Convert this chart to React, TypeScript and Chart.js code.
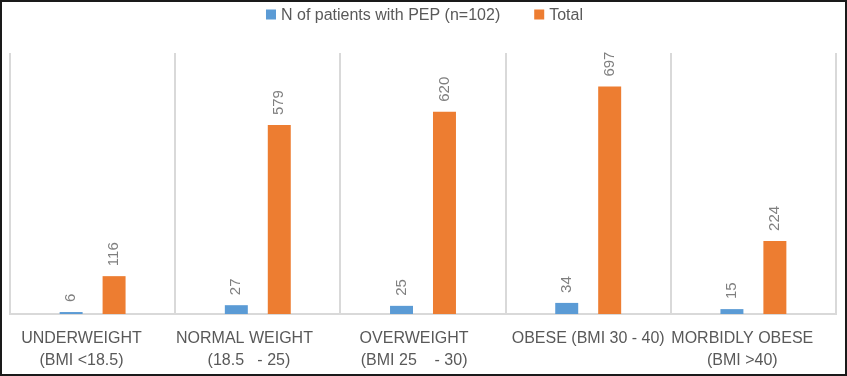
import React, { useEffect, useRef } from "react";
import { Chart, registerables } from "chart.js";

Chart.register(...registerables);

const categories: string[][] = [
  ["UNDERWEIGHT     ", "(BMI <18.5)     "],
  ["NORMAL WEIGHT      ", "(18.5   - 25)    "],
  ["OVERWEIGHT    ", "(BMI 25    - 30)    "],
  ["OBESE (BMI 30 - 40)"],
  ["MORBIDLY OBESE     ", "(BMI >40)     "],
];

const seriesNames = ["N of patients with PEP (n=102)", "Total"];
const pepValues = [6, 27, 25, 34, 15];
const totalValues = [116, 579, 620, 697, 224];
const seriesColors = ["#5B9BD5", "#ED7D31"];

const FONT = "'Liberation Sans', Arial, sans-serif";

const dataLabelPlugin = {
  id: "rotatedDataLabels",
  afterDatasetsDraw(chart: any) {
    const ctx = chart.ctx;
    ctx.save();
    ctx.font = `15px ${FONT}`;
    ctx.fillStyle = "#7f7f7f";
    ctx.textAlign = "left";
    ctx.textBaseline = "middle";
    chart.data.datasets.forEach((ds: any, di: number) => {
      const meta = chart.getDatasetMeta(di);
      meta.data.forEach((el: any, i: number) => {
        ctx.save();
        ctx.translate(el.x, el.y - 10);
        ctx.rotate(-Math.PI / 2);
        ctx.fillText(String(ds.data[i]), 0, 0);
        ctx.restore();
      });
    });
    ctx.restore();
  },
};

const legendPlugin = {
  id: "customLegend",
  afterDraw(chart: any) {
    const ctx = chart.ctx;
    ctx.save();
    ctx.font = `16px ${FONT}`;
    ctx.textBaseline = "middle";
    ctx.textAlign = "left";
    const box = 10;
    const gapBoxText = 5;
    const gapItems = 34;
    const items = chart.data.datasets.map((ds: any) => ({
      text: ds.label,
      color: ds.backgroundColor,
      w: ctx.measureText(ds.label).width,
    }));
    const total =
      items.reduce((s: number, it: any) => s + box + gapBoxText + it.w, 0) +
      gapItems * (items.length - 1);
    let x = chart.width / 2 - total / 2 + 1;
    const cy = 12.5;
    items.forEach((it: any) => {
      ctx.fillStyle = it.color;
      ctx.fillRect(x, cy - box / 2, box, box);
      x += box + gapBoxText;
      ctx.fillStyle = "#595959";
      ctx.fillText(it.text, x, cy + 1);
      x += it.w + gapItems;
    });
    ctx.restore();
  },
};

export default function App() {
  const ref = useRef<HTMLCanvasElement | null>(null);
  useEffect(() => {
    if (!ref.current) return;
    const chart = new Chart(ref.current, {
      type: "bar",
      data: {
        labels: categories,
        datasets: [
          {
            label: seriesNames[0],
            data: pepValues,
            backgroundColor: seriesColors[0],
            categoryPercentage: 0.52,
            barPercentage: 0.535,
          },
          {
            label: seriesNames[1],
            data: totalValues,
            backgroundColor: seriesColors[1],
            categoryPercentage: 0.52,
            barPercentage: 0.535,
          },
        ],
      },
      options: {
        responsive: false,
        animation: false,
        layout: { padding: { left: 8, right: 9, top: 51, bottom: 2 } },
        plugins: {
          legend: { display: false },
          tooltip: { enabled: false },
        },
        scales: {
          x: {
            afterFit(scale: any) {
              scale.height = 58;
              scale.paddingLeft = 0;
              scale.paddingRight = 0;
            },
            grid: {
              display: true,
              offset: true,
              color: "#d9d9d9",
              lineWidth: 2,
              drawTicks: false,
            },
            border: { display: true, color: "#d9d9d9", width: 2 },
            ticks: {
              color: "#595959",
              padding: 14,
              maxRotation: 0,
              autoSkip: false,
              font: { family: FONT, size: 16, lineHeight: 1.375 },
            },
          },
          y: {
            display: false,
            min: 0,
            max: 800,
          },
        },
      },
      plugins: [dataLabelPlugin, legendPlugin],
    });
    return () => chart.destroy();
  }, []);

  return (
    <div
      style={{
        position: "fixed",
        left: 0,
        top: 0,
        width: 847,
        height: 376,
        border: "2px solid #1a1a1a",
        boxSizing: "border-box",
        background: "#fff",
      }}
    >
      <canvas ref={ref} width={843} height={372} style={{ display: "block", width: 843, height: 372 }} />
    </div>
  );
}
